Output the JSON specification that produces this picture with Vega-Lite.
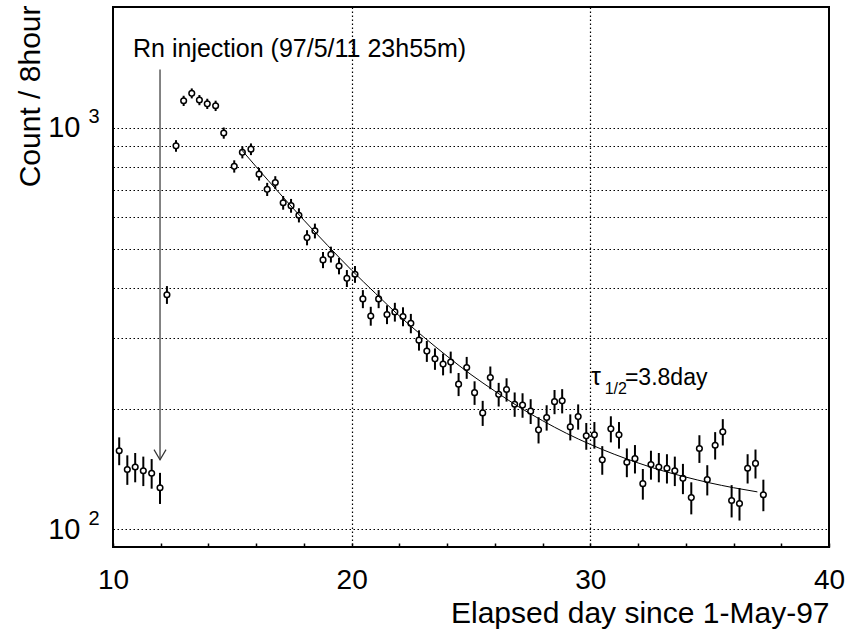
{
  "$schema": "https://vega.github.io/schema/vega-lite/v6.json",
  "width": 716,
  "height": 540,
  "autosize": {"type": "none"},
  "padding": {"left": 113, "top": 7, "right": 25, "bottom": 90},
  "config": {
    "font": "Liberation Sans",
    "view": {"stroke": "black", "strokeWidth": 2},
    "axis": {"labelColor": "black", "titleColor": "black", "titleFontWeight": "normal"}
  },
  "datasets": {
    "pts": [
      {"day": 10.26, "count": 157, "lo": 144.5, "hi": 169.5},
      {"day": 10.60, "count": 141, "lo": 129.1, "hi": 152.9},
      {"day": 10.93, "count": 143, "lo": 131.0, "hi": 155.0},
      {"day": 11.27, "count": 140, "lo": 128.2, "hi": 151.8},
      {"day": 11.62, "count": 138, "lo": 126.3, "hi": 149.7},
      {"day": 11.97, "count": 127, "lo": 115.7, "hi": 138.3},
      {"day": 12.26, "count": 384, "lo": 364.4, "hi": 403.6},
      {"day": 12.64, "count": 902, "lo": 872, "hi": 932},
      {"day": 12.96, "count": 1168, "lo": 1133.8, "hi": 1202.2},
      {"day": 13.30, "count": 1219, "lo": 1184.1, "hi": 1253.9},
      {"day": 13.62, "count": 1173, "lo": 1138.8, "hi": 1207.2},
      {"day": 13.95, "count": 1148, "lo": 1114.1, "hi": 1181.9},
      {"day": 14.30, "count": 1135, "lo": 1101.3, "hi": 1168.7},
      {"day": 14.64, "count": 971, "lo": 939.8, "hi": 1002.2},
      {"day": 15.08, "count": 802, "lo": 773.7, "hi": 830.3},
      {"day": 15.42, "count": 869, "lo": 839.5, "hi": 898.5},
      {"day": 15.78, "count": 885, "lo": 855.3, "hi": 914.7},
      {"day": 16.12, "count": 767, "lo": 739.3, "hi": 794.7},
      {"day": 16.46, "count": 703, "lo": 676.5, "hi": 729.5},
      {"day": 16.80, "count": 731, "lo": 704, "hi": 758},
      {"day": 17.13, "count": 651, "lo": 625.5, "hi": 676.5},
      {"day": 17.46, "count": 640, "lo": 614.7, "hi": 665.3},
      {"day": 17.79, "count": 606, "lo": 581.4, "hi": 630.6},
      {"day": 18.13, "count": 533, "lo": 509.9, "hi": 556.1},
      {"day": 18.46, "count": 554, "lo": 530.5, "hi": 577.5},
      {"day": 18.80, "count": 469, "lo": 447.3, "hi": 490.7},
      {"day": 19.13, "count": 484, "lo": 462, "hi": 506},
      {"day": 19.47, "count": 453, "lo": 431.7, "hi": 474.3},
      {"day": 19.80, "count": 422, "lo": 401.5, "hi": 442.5},
      {"day": 20.14, "count": 432, "lo": 411.2, "hi": 452.8},
      {"day": 20.47, "count": 375, "lo": 355.6, "hi": 394.4},
      {"day": 20.80, "count": 340, "lo": 321.6, "hi": 358.4},
      {"day": 21.13, "count": 375, "lo": 355.6, "hi": 394.4},
      {"day": 21.48, "count": 343, "lo": 324.5, "hi": 361.5},
      {"day": 21.81, "count": 348, "lo": 329.3, "hi": 366.7},
      {"day": 22.15, "count": 339, "lo": 320.6, "hi": 357.4},
      {"day": 22.48, "count": 326, "lo": 307.9, "hi": 344.1},
      {"day": 22.82, "count": 296, "lo": 278.8, "hi": 313.2},
      {"day": 23.15, "count": 278, "lo": 261.3, "hi": 294.7},
      {"day": 23.49, "count": 266, "lo": 249.7, "hi": 282.3},
      {"day": 23.83, "count": 258, "lo": 241.9, "hi": 274.1},
      {"day": 24.15, "count": 261, "lo": 244.8, "hi": 277.2},
      {"day": 24.48, "count": 230, "lo": 214.8, "hi": 245.2},
      {"day": 24.82, "count": 253, "lo": 237.1, "hi": 268.9},
      {"day": 25.15, "count": 219, "lo": 204.2, "hi": 233.8},
      {"day": 25.49, "count": 195, "lo": 181, "hi": 209},
      {"day": 25.81, "count": 239, "lo": 223.5, "hi": 254.5},
      {"day": 26.16, "count": 217, "lo": 202.3, "hi": 231.7},
      {"day": 26.49, "count": 223, "lo": 208.1, "hi": 237.9},
      {"day": 26.83, "count": 205, "lo": 190.7, "hi": 219.3},
      {"day": 27.16, "count": 204, "lo": 189.7, "hi": 218.3},
      {"day": 27.50, "count": 197, "lo": 183, "hi": 211},
      {"day": 27.83, "count": 177, "lo": 163.7, "hi": 190.3},
      {"day": 28.17, "count": 190, "lo": 176.2, "hi": 203.8},
      {"day": 28.50, "count": 208, "lo": 193.6, "hi": 222.4},
      {"day": 28.82, "count": 209, "lo": 194.5, "hi": 223.5},
      {"day": 29.16, "count": 180, "lo": 166.6, "hi": 193.4},
      {"day": 29.49, "count": 191, "lo": 177.2, "hi": 204.8},
      {"day": 29.83, "count": 171, "lo": 157.9, "hi": 184.1},
      {"day": 30.17, "count": 172, "lo": 158.9, "hi": 185.1},
      {"day": 30.50, "count": 149, "lo": 136.8, "hi": 161.2},
      {"day": 30.86, "count": 178, "lo": 164.7, "hi": 191.3},
      {"day": 31.20, "count": 172, "lo": 158.9, "hi": 185.1},
      {"day": 31.53, "count": 147, "lo": 134.9, "hi": 159.1},
      {"day": 31.87, "count": 150, "lo": 137.8, "hi": 162.2},
      {"day": 32.20, "count": 130, "lo": 118.6, "hi": 141.4},
      {"day": 32.54, "count": 145, "lo": 133, "hi": 157},
      {"day": 32.87, "count": 143, "lo": 131, "hi": 155},
      {"day": 33.21, "count": 142, "lo": 130.1, "hi": 153.9},
      {"day": 33.54, "count": 140, "lo": 128.2, "hi": 151.8},
      {"day": 33.88, "count": 134, "lo": 122.4, "hi": 145.6},
      {"day": 34.23, "count": 120, "lo": 109, "hi": 131},
      {"day": 34.57, "count": 159, "lo": 146.4, "hi": 171.6},
      {"day": 34.90, "count": 133, "lo": 121.5, "hi": 144.5},
      {"day": 35.23, "count": 162, "lo": 149.3, "hi": 174.7},
      {"day": 35.55, "count": 175, "lo": 161.8, "hi": 188.2},
      {"day": 35.92, "count": 118, "lo": 107.1, "hi": 128.9},
      {"day": 36.25, "count": 116, "lo": 105.2, "hi": 126.8},
      {"day": 36.59, "count": 142, "lo": 130.1, "hi": 153.9},
      {"day": 36.92, "count": 146, "lo": 133.9, "hi": 158.1},
      {"day": 37.25, "count": 122, "lo": 111, "hi": 133}
    ],
    "fit": [
      {"day": 15.4, "count": 880},
      {"day": 16, "count": 800},
      {"day": 17, "count": 685},
      {"day": 18, "count": 589},
      {"day": 19, "count": 509},
      {"day": 20, "count": 442},
      {"day": 21, "count": 387},
      {"day": 22, "count": 340},
      {"day": 23, "count": 302},
      {"day": 24, "count": 270},
      {"day": 25, "count": 243},
      {"day": 26, "count": 221},
      {"day": 27, "count": 202},
      {"day": 28, "count": 186.5},
      {"day": 29, "count": 173.5},
      {"day": 30, "count": 162.8},
      {"day": 31, "count": 153.9},
      {"day": 32, "count": 146.4},
      {"day": 33, "count": 140.1},
      {"day": 34, "count": 135},
      {"day": 35, "count": 130.6},
      {"day": 36, "count": 127},
      {"day": 37, "count": 124}
    ],
    "arrow": [{"day": 11.97, "top": 1398, "bottom": 149}],
    "rn": [{"day": 10.84, "count": 1505, "label": "Rn injection (97/5/11 23h55m)"}],
    "tau": [{"day": 30.03, "count": 229, "label": "τ"}],
    "sub": [{"day": 30.6, "count": 218, "label": "1/2"}],
    "eq": [{"day": 31.45, "count": 229, "label": "=3.8day"}]
  },
  "layer": [
    {
      "data": {"name": "pts"},
      "mark": {"type": "rule", "color": "black", "strokeWidth": 2},
      "encoding": {
        "x": {
          "field": "day", "type": "quantitative",
          "scale": {"domain": [10, 40], "nice": false, "zero": false},
          "axis": {
            "values": [10, 12, 14, 16, 18, 20, 22, 24, 26, 28, 30, 32, 34, 36, 38, 40],
            "labelExpr": "datum.value % 10 == 0 ? datum.label : ''",
            "labelFontSize": 28,
            "labelFlush": false,
            "labelOverlap": false,
            "labelPadding": 23,
            "tickSize": -4,
            "tickColor": "black",
            "tickWidth": 1.5,
            "domain": false,
            "grid": true,
            "gridColor": "black",
            "gridDash": [1.5, 2.5],
            "gridWidth": 1.2,
            "gridOpacity": {"condition": {"test": "datum.value == 20 || datum.value == 30", "value": 1}, "value": 0},
            "title": "Elapsed day since 1-May-97",
            "titleFontSize": 30,
            "titleAnchor": "end",
            "titleAlign": "right",
            "titleBaseline": "alphabetic",
            "titleY": 75
          }
        },
        "y": {
          "field": "lo", "type": "quantitative",
          "scale": {"type": "log", "domain": [90.4, 2000], "nice": false},
          "axis": {
            "orient": "left",
            "values": [100, 200, 300, 400, 500, 600, 700, 800, 900, 1000],
            "labelExpr": "datum.value == 1000 || datum.value == 100 ? '10' : ''",
            "labelFontSize": 29,
            "labelOverlap": false,
            "labelPadding": 33,
            "labelBaseline": "middle",
            "ticks": false,
            "domain": false,
            "grid": true,
            "gridColor": "black",
            "gridDash": [1.5, 2.5],
            "gridWidth": 1.2,
            "title": "Count / 8hour",
            "titleFontSize": 30,
            "titleAngle": -90,
            "titleAlign": "right",
            "titleBaseline": "alphabetic",
            "titleX": -74,
            "titleY": -2
          }
        },
        "y2": {"field": "hi"}
      }
    },
    {
      "data": {"name": "pts"},
      "mark": {"type": "point", "shape": "circle", "filled": true, "fill": "white", "stroke": "black", "strokeWidth": 1.5, "size": 32, "opacity": 1},
      "encoding": {
        "x": {"field": "day", "type": "quantitative"},
        "y": {
          "field": "count", "type": "quantitative",
          "scale": {"type": "log", "domain": [90.4, 2000], "nice": false},
          "axis": {
            "orient": "left",
            "values": [100, 1000],
            "labelExpr": "datum.value == 1000 ? '3' : '2'",
            "labelFontSize": 20,
            "labelAlign": "left",
            "labelBaseline": "middle",
            "labelPadding": 25,
            "labelOffset": -11,
            "labelOverlap": false,
            "ticks": false,
            "domain": false,
            "grid": false,
            "title": null
          }
        }
      }
    },
    {
      "data": {"name": "fit"},
      "mark": {"type": "line", "color": "black", "strokeWidth": 1, "interpolate": "monotone"},
      "encoding": {
        "x": {"field": "day", "type": "quantitative"},
        "y": {"field": "count", "type": "quantitative", "scale": {"type": "log", "domain": [90.4, 2000], "nice": false}, "axis": null}
      }
    },
    {
      "data": {"name": "arrow"},
      "mark": {"type": "rule", "color": "#333333", "strokeWidth": 1.2},
      "encoding": {
        "x": {"field": "day", "type": "quantitative"},
        "y": {"field": "top", "type": "quantitative", "scale": {"type": "log", "domain": [90.4, 2000], "nice": false}, "axis": null},
        "y2": {"field": "bottom"}
      }
    },
    {
      "data": {"name": "arrow"},
      "mark": {"type": "point", "shape": "M-1,-1.7L0,0L1,-1.7", "filled": false, "stroke": "#333333", "strokeWidth": 1.2, "size": 144, "opacity": 1},
      "encoding": {
        "x": {"field": "day", "type": "quantitative"},
        "y": {"field": "bottom", "type": "quantitative", "scale": {"type": "log", "domain": [90.4, 2000], "nice": false}, "axis": null}
      }
    },
    {
      "data": {"name": "rn"},
      "mark": {"type": "text", "align": "left", "baseline": "alphabetic", "fontSize": 25, "color": "black"},
      "encoding": {
        "x": {"field": "day", "type": "quantitative"},
        "y": {"field": "count", "type": "quantitative", "scale": {"type": "log", "domain": [90.4, 2000], "nice": false}, "axis": null},
        "text": {"field": "label"}
      }
    },
    {
      "data": {"name": "tau"},
      "mark": {"type": "text", "align": "left", "baseline": "alphabetic", "fontSize": 25, "color": "black"},
      "encoding": {
        "x": {"field": "day", "type": "quantitative"},
        "y": {"field": "count", "type": "quantitative", "scale": {"type": "log", "domain": [90.4, 2000], "nice": false}, "axis": null},
        "text": {"field": "label"}
      }
    },
    {
      "data": {"name": "sub"},
      "mark": {"type": "text", "align": "left", "baseline": "alphabetic", "fontSize": 16, "color": "black"},
      "encoding": {
        "x": {"field": "day", "type": "quantitative"},
        "y": {"field": "count", "type": "quantitative", "scale": {"type": "log", "domain": [90.4, 2000], "nice": false}, "axis": null},
        "text": {"field": "label"}
      }
    },
    {
      "data": {"name": "eq"},
      "mark": {"type": "text", "align": "left", "baseline": "alphabetic", "fontSize": 23, "color": "black"},
      "encoding": {
        "x": {"field": "day", "type": "quantitative"},
        "y": {"field": "count", "type": "quantitative", "scale": {"type": "log", "domain": [90.4, 2000], "nice": false}, "axis": null},
        "text": {"field": "label"}
      }
    }
  ],
  "resolve": {"axis": {"y": "independent"}}
}
